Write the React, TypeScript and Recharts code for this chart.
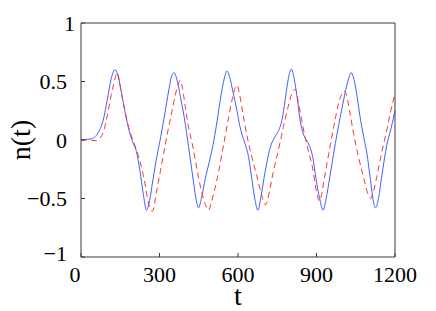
import { LineChart, Line, XAxis, YAxis } from "recharts";

// n(t): solid blue and dashed red series
const blueT = [
  0, 20, 40, 55, 70, 85, 100, 115, 130, 140, 155, 170, 185, 200, 212, 225, 238, 250, 262, 275,
  290, 305, 320, 335, 347, 356, 366, 380, 399, 415, 430, 441, 449, 460, 475, 494, 508, 520, 535,
  548, 558, 568, 580, 596, 607, 615, 628, 640, 652, 664, 676, 688, 700, 717, 730, 742, 755, 768,
  780, 792, 804, 815, 825, 838, 850, 864, 875, 885, 898, 912, 925, 937, 952, 972, 985, 1000, 1015,
  1025, 1033, 1045, 1056, 1067, 1080, 1093, 1105, 1117, 1125, 1135, 1150, 1169, 1185, 1200,
];
const blueN = [
  0, 0.005, 0.01, 0.03, 0.08, 0.17, 0.34, 0.52, 0.6, 0.56, 0.4, 0.22, 0.07, -0.03, -0.1, -0.26,
  -0.46, -0.6, -0.52, -0.34, -0.14, 0.03, 0.22, 0.42, 0.55, 0.575, 0.52, 0.37, 0.13, -0.12, -0.36,
  -0.52, -0.58, -0.5, -0.33, -0.15, 0.0, 0.16, 0.38, 0.53, 0.59, 0.54, 0.42, 0.25, 0.12, 0.05,
  -0.04, -0.14, -0.32, -0.5, -0.6, -0.48, -0.32, -0.12, -0.02, 0.03, 0.08, 0.17, 0.34, 0.52, 0.606,
  0.52, 0.38, 0.16, 0.05, -0.01, -0.06, -0.14, -0.33, -0.5, -0.6, -0.5, -0.3, -0.03, 0.13, 0.3,
  0.46, 0.54, 0.575, 0.5, 0.36, 0.19, 0.03, -0.12, -0.32, -0.52, -0.58, -0.52, -0.3, -0.04, 0.1,
  0.25,
];

const redT = [
  0, 20, 40, 60, 70, 80, 92, 104, 115, 125, 133, 139, 147, 155, 168, 181, 195, 210, 225, 235, 244,
  257, 267, 272, 278, 284, 303, 322, 335, 348, 360, 372, 379, 388, 400, 411, 425, 437, 449, 462,
  475, 488, 497, 510, 526, 545, 564, 580, 590, 596, 605, 620, 633, 650, 671, 688, 700, 705, 712,
  722, 735, 755, 773, 790, 805, 815, 820, 830, 849, 866, 885, 900, 910, 918, 930, 953, 970, 984,
  996, 1006, 1015, 1028, 1042, 1060, 1080, 1095, 1107, 1115, 1130, 1145, 1156, 1170, 1185, 1200,
];
const redN = [
  0, 0, -0.003, -0.005, 0.01, 0.04, 0.12, 0.25, 0.38, 0.48, 0.55, 0.575, 0.5, 0.39, 0.25, 0.12,
  0.02, -0.07, -0.18, -0.27, -0.37, -0.53, -0.6, -0.61, -0.58, -0.5, -0.27, -0.04, 0.11, 0.25,
  0.38, 0.48, 0.51, 0.44, 0.26, 0.11, -0.03, -0.17, -0.32, -0.45, -0.55, -0.6, -0.54, -0.43,
  -0.27, -0.04, 0.19, 0.37, 0.45, 0.47, 0.4, 0.21, 0.05, -0.12, -0.3, -0.45, -0.54, -0.555, -0.52,
  -0.42, -0.27, -0.08, 0.106, 0.27, 0.39, 0.43, 0.43, 0.33, 0.106, -0.07, -0.24, -0.44, -0.52,
  -0.48, -0.33, -0.04, 0.16, 0.31, 0.39, 0.42, 0.38, 0.23, 0.05, -0.14, -0.32, -0.45, -0.5, -0.46,
  -0.32, -0.15, -0.04, 0.1, 0.26, 0.4,
];

const xTicks = [0, 300, 600, 900, 1200];
const yTicks = [-1, -0.5, 0, 0.5, 1];

const blueData = blueT.map((t, i) => ({ t, n: blueN[i] }));
const redData = redT.map((t, i) => ({ t, n: redN[i] }));

const FONT = "'Liberation Serif', 'Times New Roman', Times, 'DejaVu Serif', serif";
const frame = "#3a3a3a";
const fmt = (v: number) => (v < 0 ? "\u2212" + String(-v) : String(v));

function XTick({ x, y, payload }: any) {
  // the "0" label sits a little left of its tick in the reference
  const dx = payload.value === 0 ? -6 : 0;
  return (
    <text
      x={x + dx}
      y={y + 25}
      textAnchor="middle"
      fontFamily={FONT}
      style={{ fontFamily: FONT, fontSize: 22 }}
      fill="#000"
    >
      {fmt(payload.value)}
    </text>
  );
}

function YTick({ x, y, payload }: any) {
  const v = payload.value;
  const dx = v === 1 ? 8 : 0;
  const dy = v === -1 ? -4 : 0;
  return (
    <text
      x={x - 14 + dx}
      y={y + 7.5 + dy}
      textAnchor="end"
      fontFamily={FONT}
      style={{ fontFamily: FONT, fontSize: 22 }}
      fill="#000"
    >
      {fmt(v)}
    </text>
  );
}

export default function App() {
  return (
    <div style={{ position: "absolute", left: 0, top: 0, background: "#fff", fontFamily: FONT }}>
      <LineChart width={436} height={311} margin={{ top: 22, right: 0, bottom: 0, left: 0 }}>
        <XAxis
          xAxisId="b"
          dataKey="t"
          type="number"
          domain={[0, 1200]}
          ticks={xTicks}
          interval={0}
          height={54}
          tickSize={-4}
          tickMargin={4}
          stroke={frame}
          tick={<XTick />}
          label={({ viewBox }: any) => (
            <text
              x={viewBox.x + viewBox.width / 2}
              y={viewBox.y + 48}
              textAnchor="middle"
              fontFamily={FONT}
              style={{ fontFamily: FONT, fontSize: 28 }}
              fill="#000"
            >
              t
            </text>
          )}
        />
        <XAxis
          xAxisId="top"
          orientation="top"
          dataKey="t"
          type="number"
          domain={[0, 1200]}
          ticks={xTicks}
          interval={0}
          height={1}
          tickSize={-4}
          stroke={frame}
          tickFormatter={() => ""}
        />
        <YAxis
          yAxisId="l"
          type="number"
          domain={[-1, 1]}
          ticks={yTicks}
          interval={0}
          width={81}
          tickSize={-4}
          tickMargin={4}
          stroke={frame}
          tick={<YTick />}
          label={({ viewBox }: any) => (
            <text
              x={20}
              y={viewBox.y + viewBox.height / 2}
              transform={`rotate(-90 20 ${viewBox.y + viewBox.height / 2})`}
              textAnchor="middle"
              dominantBaseline="central"
              fontFamily={FONT}
              style={{ fontFamily: FONT, fontSize: 28 }}
              fill="#000"
            >
              n(t)
            </text>
          )}
        />
        <YAxis
          yAxisId="r"
          orientation="right"
          type="number"
          domain={[-1, 1]}
          ticks={yTicks}
          interval={0}
          width={41}
          tickSize={-4}
          stroke={frame}
          tickFormatter={() => ""}
        />
        <Line
          xAxisId="b"
          yAxisId="l"
          data={blueData}
          dataKey="n"
          type="monotone"
          stroke="#4060ff"
          strokeWidth={1}
          dot={false}
          isAnimationActive={false}
        />
        <Line
          xAxisId="b"
          yAxisId="l"
          data={redData}
          dataKey="n"
          type="monotone"
          stroke="#ff3535"
          strokeWidth={1}
          strokeDasharray="6 4"
          dot={false}
          isAnimationActive={false}
        />
      </LineChart>
    </div>
  );
}
